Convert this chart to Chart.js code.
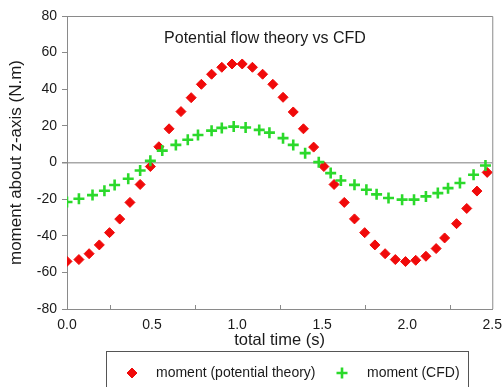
<!DOCTYPE html>
<html>
<head>
<meta charset="utf-8">
<script src="https://cdn.jsdelivr.net/npm/chart.js@4/dist/chart.umd.min.js"></script>
<style>
  html, body { margin: 0; padding: 0; background: #fff; }
  #wrap { width: 502px; height: 387px; }
</style>
</head>
<body>
<div id="wrap"><canvas id="chart" width="502" height="387"></canvas></div>
<script>
// potential flow theory (red diamonds)
const timePotential = [0.00, 0.07, 0.13, 0.19, 0.25, 0.31, 0.37, 0.43, 0.49, 0.54,
    0.60, 0.67, 0.73, 0.79, 0.85, 0.91, 0.97, 1.03, 1.09, 1.15,
    1.21, 1.27, 1.33, 1.39, 1.45, 1.51, 1.57, 1.63, 1.69, 1.75,
    1.81, 1.87, 1.93, 1.99, 2.05, 2.11, 2.17, 2.22, 2.29, 2.35,
    2.41, 2.47];
const momentPotential = [-54.0, -53.0, -49.8, -45.0, -38.3, -30.9, -21.8, -12.0, -2.2, 8.6,
    18.4, 27.8, 35.4, 42.7, 48.2, 52.0, 53.8, 53.8, 52.0, 48.2,
    42.7, 35.6, 27.6, 18.4, 8.4, -2.2, -12.0, -21.8, -30.8, -38.3,
    -45.0, -49.8, -53.0, -54.1, -53.4, -51.2, -47.0, -41.2, -33.4, -25.1,
    -15.6, -5.4];

// CFD (green crosses)
const timeCFD = [0.00, 0.07, 0.15, 0.22, 0.28, 0.36, 0.43, 0.49, 0.56, 0.64,
    0.71, 0.77, 0.85, 0.91, 0.98, 1.05, 1.13, 1.19, 1.27, 1.33,
    1.40, 1.48, 1.55, 1.61, 1.69, 1.76, 1.82, 1.89, 1.97, 2.04,
    2.11, 2.18, 2.24, 2.31, 2.39, 2.46];
const momentCFD = [-21.6, -19.8, -17.8, -15.4, -12.3, -8.9, -4.4, 0.9, 6.5, 9.6,
    12.4, 15.0, 17.4, 18.9, 19.6, 19.1, 17.8, 16.3, 13.3, 9.6,
    5.1, 0.2, -5.8, -9.8, -12.2, -14.9, -17.4, -19.4, -20.3, -20.3,
    -18.5, -16.7, -14.0, -11.2, -6.7, -1.6];

const seriesLabels = ['moment (potential theory)', 'moment (CFD)'];
const minorTicksX = [0.25, 0.75, 1.25, 1.75, 2.25];
const chartTitle = 'Potential flow theory vs CFD';

const FONT = "'Liberation Sans', Arial, sans-serif";
const AXIS_GRAY = '#8a8a8a';
const RED = '#f00a0a';
const GREEN = '#2bd92b';

function toPoints(xs, ys) {
    return xs.map((x, i) => ({ x: x, y: ys[i] }));
}

// frame, inner ticks, title and boxed legend like the original figure
const decorations = {
    id: 'decorations',
    beforeDatasetsDraw(chart) {
        const { ctx, chartArea, scales } = chart;
        ctx.save();
        ctx.strokeStyle = AXIS_GRAY;
        ctx.lineWidth = 1;
        ctx.beginPath();
        ctx.moveTo(chartArea.left, chartArea.top + 0.5);
        ctx.lineTo(chartArea.right + 0.5, chartArea.top + 0.5);
        ctx.lineTo(chartArea.right + 0.5, chartArea.bottom);
        ctx.stroke();
        // small inward ticks on the time axis
        minorTicksX.forEach(v => {
            const px = Math.round(scales.x.getPixelForValue(v)) + 0.5;
            ctx.beginPath();
            ctx.moveTo(px, chartArea.bottom);
            ctx.lineTo(px, chartArea.bottom - 4);
            ctx.stroke();
        });
        ctx.restore();
    },
    afterDraw(chart) {
        const { ctx } = chart;
        ctx.save();
        ctx.fillStyle = '#1a1a1a';
        ctx.font = '16px ' + FONT;
        ctx.textAlign = 'center';
        ctx.textBaseline = 'middle';
        ctx.fillText(chartTitle, 265, 39);

        // legend box
        ctx.strokeStyle = '#555';
        ctx.lineWidth = 1;
        ctx.strokeRect(106.5, 351.5, 362, 60);

        const ds = chart.data.datasets;
        const items = [
            { ds: ds[0], mx: 132, tx: 156 },
            { ds: ds[1], mx: 342, tx: 367 }
        ];
        ctx.font = '14px ' + FONT;
        ctx.textAlign = 'left';
        items.forEach(it => {
            ctx.fillStyle = it.ds.pointBackgroundColor;
            ctx.strokeStyle = it.ds.pointBorderColor;
            ctx.lineWidth = it.ds.pointBorderWidth;
            Chart.helpers.drawPoint(ctx, {
                pointStyle: it.ds.pointStyle,
                radius: it.ds.pointRadius,
                borderWidth: it.ds.pointBorderWidth,
                rotation: 0
            }, it.mx, 373);
            ctx.fillStyle = '#1a1a1a';
            ctx.fillText(it.ds.label, it.tx, 373);
        });
        ctx.restore();
    }
};

const ctx = document.getElementById('chart').getContext('2d');

new Chart(ctx, {
    type: 'scatter',
    data: {
        datasets: [{
            label: seriesLabels[0],
            data: toPoints(timePotential, momentPotential),
            pointStyle: 'rectRot',
            pointRadius: 5,
            pointBackgroundColor: RED,
            pointBorderColor: RED,
            pointBorderWidth: 1,
            showLine: false,
            order: 1
        }, {
            label: seriesLabels[1],
            data: toPoints(timeCFD, momentCFD),
            pointStyle: 'cross',
            pointRadius: 5.5,
            pointBackgroundColor: GREEN,
            pointBorderColor: GREEN,
            pointBorderWidth: 2.6,
            showLine: false,
            order: 0
        }]
    },
    options: {
        responsive: false,
        animation: false,
        events: [],
        layout: {
            padding: { top: 16, right: 0, bottom: 36, left: 0 }
        },
        scales: {
            x: {
                type: 'linear',
                min: 0,
                max: 2.5,
                afterFit: (scale) => { scale.height = 42; },
                ticks: {
                    stepSize: 0.5,
                    padding: 0,
                    color: '#1a1a1a',
                    font: { family: FONT, size: 14 },
                    callback: (v) => Number(v).toFixed(1)
                },
                // tick marks kept only as spacing below the axis
                grid: {
                    display: true,
                    drawOnChartArea: false,
                    drawTicks: true,
                    tickLength: 8,
                    tickColor: 'rgba(0,0,0,0)',
                    color: 'rgba(0,0,0,0)'
                },
                border: { display: true, color: AXIS_GRAY, width: 1 },
                title: {
                    display: true,
                    text: 'total time (s)',
                    color: '#1a1a1a',
                    font: { family: FONT, size: 16.5 },
                    padding: { top: 0, bottom: 1 }
                }
            },
            y: {
                type: 'linear',
                min: -80,
                max: 80,
                afterFit: (scale) => { scale.width = 67; },
                ticks: {
                    stepSize: 20,
                    padding: 5,
                    color: '#1a1a1a',
                    font: { family: FONT, size: 14 }
                },
                grid: {
                    color: (c) => (c.tick && c.tick.value === 0 ? '#a8a8a8' : 'rgba(0,0,0,0)'),
                    lineWidth: (c) => (c.tick && c.tick.value === 0 ? 1.5 : 1),
                    tickColor: AXIS_GRAY,
                    tickLength: 5
                },
                border: { display: true, color: AXIS_GRAY, width: 1 },
                title: {
                    display: true,
                    text: 'moment about z-axis (N.m)',
                    color: '#1a1a1a',
                    font: { family: FONT, size: 17 },
                    padding: { top: 6, bottom: 0 }
                }
            }
        },
        plugins: {
            legend: { display: false },
            tooltip: { enabled: false }
        }
    },
    plugins: [decorations]
});
</script>
</body>
</html>
